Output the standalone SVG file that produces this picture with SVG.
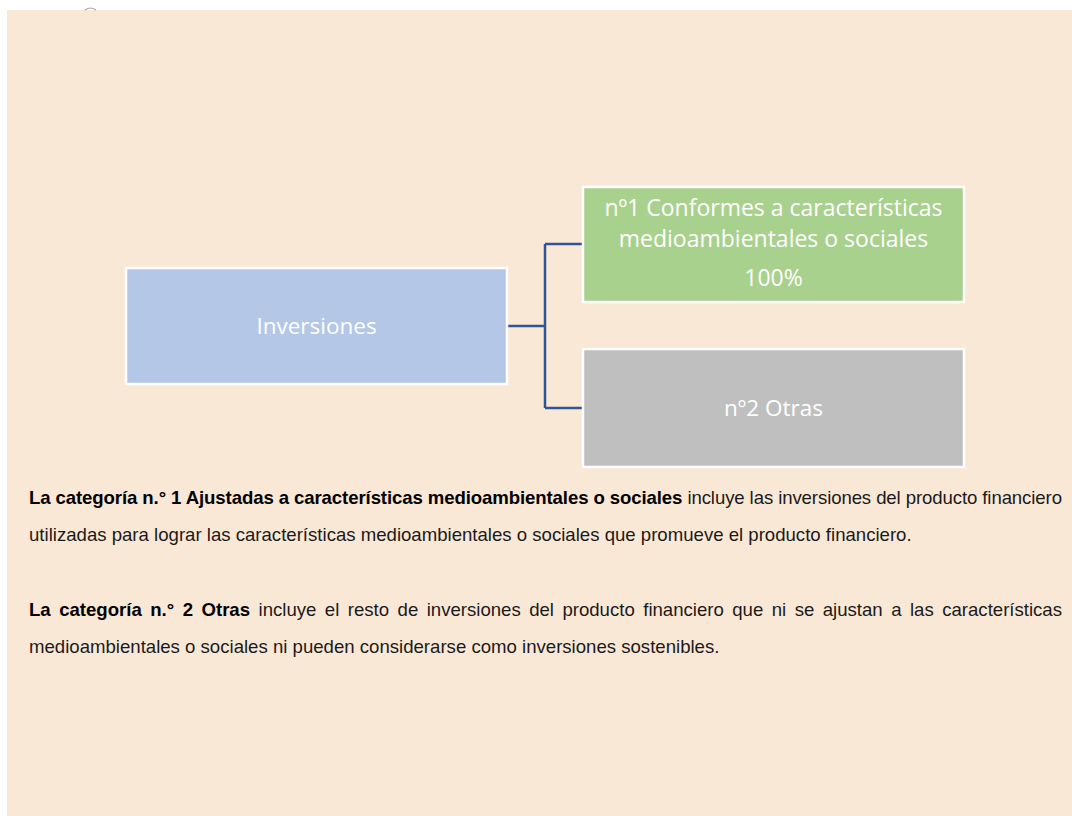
<svg xmlns="http://www.w3.org/2000/svg" width="1072" height="816" viewBox="0 0 1072 816">
  <style>
    .box { stroke: #FFFFFF; stroke-width: 2.5; }
    .lbl { font-family: "Open Sans", "Noto Sans", sans-serif; font-size: 22.5px; fill: #FFFFFF; text-anchor: middle; }
    .lbl2 { font-size: 23px; }
    .para { font-family: "Liberation Sans", Arial, sans-serif; font-size: 18.6px; fill: #1A1A1A; }
    .b { font-weight: bold; fill: #000000; }
    .conn { fill: none; stroke: #2F5597; stroke-width: 2.5; }
  </style>
  <rect x="0" y="0" width="1072" height="816" fill="#FFFFFF"/>
  <rect x="7" y="10" width="1065" height="806" fill="#FAE8D7"/>
  <path d="M85,10 Q90.5,6 96,10" fill="none" stroke="#A8A8A8" stroke-width="1.2"/>

  <g id="connectors">
    <path class="conn" d="M507,326 H545 M545,244 V408 M545,244 H583 M545,408 H583"/>
  </g>

  <g id="node-inversiones">
    <rect class="box" x="126" y="268" width="381" height="116" fill="#B4C7E7"/>
    <text class="lbl" x="316.5" y="334">Inversiones</text>
  </g>

  <g id="node-n1">
    <rect class="box" x="583" y="187" width="381" height="115" fill="#A9D18E"/>
    <text class="lbl lbl2" x="773.5" y="216">nº1 Conformes a características</text>
    <text class="lbl lbl2" x="773.5" y="247">medioambientales o sociales</text>
    <text class="lbl lbl2" x="773.5" y="286">100%</text>
  </g>

  <g id="node-n2">
    <rect class="box" x="583" y="349" width="381" height="118" fill="#BFBFBF"/>
    <text class="lbl" x="773.5" y="416">nº2 Otras</text>
  </g>

  <g id="text">
    <text class="para" x="29" y="504" textLength="1033" lengthAdjust="spacing"><tspan class="b">La categoría n.° 1 Ajustadas a características medioambientales o sociales</tspan> incluye las inversiones del producto financiero</text>
    <text class="para" x="29" y="541">utilizadas para lograr las características medioambientales o sociales que promueve el producto financiero.</text>
    <text class="para" x="29" y="616" word-spacing="3.3" textLength="1033" lengthAdjust="spacing"><tspan class="b">La categoría n.° 2 Otras</tspan> incluye el resto de inversiones del producto financiero que ni se ajustan a las características</text>
    <text class="para" x="29" y="653">medioambientales o sociales ni pueden considerarse como inversiones sostenibles.</text>
  </g>
</svg>
